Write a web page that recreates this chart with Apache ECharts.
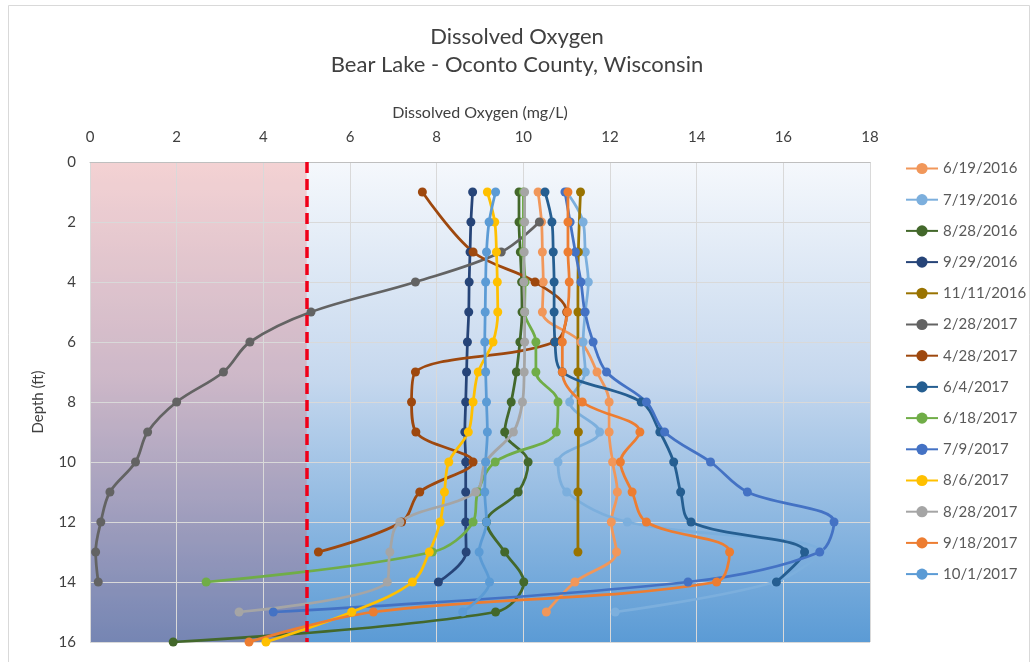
<!DOCTYPE html>
<html>
<head>
<meta charset="utf-8">
<script src="https://cdn.jsdelivr.net/npm/echarts@6/dist/echarts.min.js"></script>
<style>
  html, body { margin: 0; padding: 0; background: #fff; }
  #chart { width: 1034px; height: 662px; }
</style>
</head>
<body>
<div id="chart"></div>
<script>
// depth of each reading (ft)
const depths = [1, 2, 3, 4, 5, 6, 7, 8, 9, 10, 11, 12, 13, 14, 15, 16];
const oddDepths = [1, 3, 5, 7, 9, 11, 13];
const depths228 = [2, 3, 4, 5, 6, 7, 8, 9, 10, 11, 12, 13, 14];
const depths428 = [1, 3, 4, 5, 6, 7, 8, 9, 10, 11, 12, 13];

// dissolved oxygen (mg/L) per sampling date
const do_2016_06_19 = [10.34, 10.42, 10.44, 10.46, 10.44, 11.33, 11.70, 11.98, 11.98, 12.06, 12.17, 12.03, 12.15, 11.19, 10.53];
const do_2016_07_19 = [11.00, 11.38, 11.43, 11.50, 11.43, 11.38, 11.43, 11.07, 11.76, 10.80, 11.00, 12.40, 16.85, 15.80, 12.12];
const do_2016_08_28 = [9.90, 9.90, 9.93, 9.96, 9.97, 9.92, 9.84, 9.72, 9.57, 10.11, 9.88, 9.15, 9.57, 10.01, 9.36, 1.92];
const do_2016_09_29 = [8.83, 8.79, 8.77, 8.75, 8.74, 8.71, 8.69, 8.67, 8.65, 8.67, 8.67, 8.67, 8.68, 8.04];
const do_2016_11_11 = [11.32, 11.27, 11.26, 11.26, 11.27, 11.26, 11.26];
const do_2017_02_28 = [10.37, 9.49, 7.51, 5.10, 3.69, 3.08, 2.00, 1.33, 1.05, 0.46, 0.25, 0.13, 0.19];
const do_2017_04_28 = [7.67, 8.84, 10.27, 11.00, 10.72, 7.51, 7.42, 7.52, 8.84, 7.61, 7.19, 5.27];
const do_2017_06_04 = [10.50, 10.66, 10.69, 10.71, 10.71, 10.73, 10.90, 12.72, 13.15, 13.47, 13.63, 13.87, 16.49, 15.84];
const do_2017_06_18 = [10.00, 10.00, 10.00, 10.04, 10.03, 10.29, 10.29, 10.80, 10.76, 9.35, 8.95, 8.84, 7.90, 2.68];
const do_2017_07_09 = [10.96, 11.08, 11.20, 11.33, 11.42, 11.61, 11.92, 12.84, 13.26, 14.32, 15.17, 17.17, 16.84, 13.80, 4.23];
const do_2017_08_06 = [9.17, 9.34, 9.38, 9.40, 9.41, 9.30, 8.96, 8.84, 8.73, 8.28, 8.18, 8.08, 7.83, 7.44, 6.04, 4.06];
const do_2017_08_28 = [10.03, 10.03, 10.02, 10.01, 10.03, 10.03, 10.02, 9.98, 9.77, 9.13, 8.90, 7.15, 6.92, 6.86, 3.44];
const do_2017_09_18 = [11.03, 11.03, 11.03, 11.06, 11.02, 10.90, 10.90, 11.36, 12.69, 12.24, 12.51, 12.84, 14.76, 14.46, 6.54, 3.67];
const do_2017_10_01 = [9.36, 9.21, 9.15, 9.13, 9.12, 9.11, 9.13, 9.15, 9.17, 9.13, 9.11, 9.15, 8.98, 9.22, 8.60];

const xTicks = [0, 2, 4, 6, 8, 10, 12, 14, 16, 18];
const yTicks = [0, 2, 4, 6, 8, 10, 12, 14, 16];
const threshold = 5;

const profiles = [
  { name: "6/19/2016", color: "#F1975A", d: depths, v: do_2016_06_19 },
  { name: "7/19/2016", color: "#7CAFDD", d: depths, v: do_2016_07_19 },
  { name: "8/28/2016", color: "#43682B", d: depths, v: do_2016_08_28 },
  { name: "9/29/2016", color: "#264478", d: depths, v: do_2016_09_29 },
  { name: "11/11/2016", color: "#997300", d: oddDepths, v: do_2016_11_11 },
  { name: "2/28/2017", color: "#636363", d: depths228, v: do_2017_02_28 },
  { name: "4/28/2017", color: "#9E480E", d: depths428, v: do_2017_04_28 },
  { name: "6/4/2017", color: "#255E91", d: depths, v: do_2017_06_04 },
  { name: "6/18/2017", color: "#70AD47", d: depths, v: do_2017_06_18 },
  { name: "7/9/2017", color: "#4472C4", d: depths, v: do_2017_07_09 },
  { name: "8/6/2017", color: "#FFC000", d: depths, v: do_2017_08_06 },
  { name: "8/28/2017", color: "#A5A5A5", d: depths, v: do_2017_08_28 },
  { name: "9/18/2017", color: "#ED7D31", d: depths, v: do_2017_09_18 },
  { name: "10/1/2017", color: "#5B9BD5", d: depths, v: do_2017_10_01 }
];

const font = "Lato, 'Open Sans', sans-serif";

var series = profiles.map(function (p) {
  return {
    name: p.name,
    type: "line",
    smooth: 0.35,
    clip: false,
    z: 3,
    symbol: "circle",
    symbolSize: 9,
    itemStyle: { color: p.color },
    lineStyle: { color: p.color, width: 2.75 },
    data: p.v.map(function (val, i) { return [val, p.d[i]]; })
  };
});

// low-oxygen zone overlay and 5 mg/L line
series.push({
  name: "zone",
  type: "line",
  data: [[threshold, 0]],
  symbol: "none",
  lineStyle: { opacity: 0 },
  z: 10,
  silent: true,
  markArea: {
    silent: true,
    itemStyle: { color: "rgba(236,40,30,0.18)" },
    data: [[{ xAxis: 0, yAxis: 0 }, { xAxis: threshold, yAxis: 16 }]]
  },
  markLine: {
    silent: true,
    symbol: "none",
    label: { show: false },
    lineStyle: { color: "#F00018", width: 3.5, type: [11, 6] },
    data: [{ xAxis: threshold }]
  }
});

var myChart = echarts.init(document.getElementById("chart"));
var option = {
  animation: false,
  backgroundColor: "#fff",
  textStyle: { fontFamily: font },
  graphic: [{
    type: "rect",
    shape: { x: 8.5, y: 5.5, width: 1021, height: 680 },
    style: { fill: "none", stroke: "#D9D9D9", lineWidth: 1 },
    silent: true
  }],
  title: {
    text: "Dissolved Oxygen\nBear Lake - Oconto County, Wisconsin",
    left: "center",
    top: 18,
    textStyle: { fontFamily: font, fontSize: 22, fontWeight: "normal", color: "#404040", lineHeight: 28 }
  },
  legend: {
    orient: "vertical",
    left: 900,
    top: 156,
    itemWidth: 32,
    itemHeight: 14,
    itemGap: 16.2,
    data: profiles.map(function (p) { return p.name; }),
    textStyle: { fontFamily: font, fontSize: 15, color: "#595959" }
  },
  grid: {
    show: true,
    left: 90,
    right: 164,
    top: 162,
    bottom: 20,
    borderWidth: 0,
    backgroundColor: new echarts.graphic.LinearGradient(0, 0, 0, 1, [
      { offset: 0, color: "#F5F8FC" },
      { offset: 0.45, color: "#C6D8EE" },
      { offset: 1, color: "#5B9BD5" }
    ])
  },
  xAxis: {
    type: "value",
    position: "top",
    min: 0,
    max: 18,
    interval: 2,
    name: "Dissolved Oxygen (mg/L)",
    nameLocation: "middle",
    nameGap: 41,
    nameTextStyle: { fontFamily: font, fontSize: 16, color: "#404040" },
    axisLine: { show: true, lineStyle: { color: "#BFBFBF" } },
    axisTick: { show: false },
    axisLabel: {
      fontFamily: font, fontSize: 15, color: "#404040", margin: 17,
      formatter: function (v) { return xTicks.indexOf(v) >= 0 ? String(v) : ""; }
    },
    splitLine: { show: true, lineStyle: { color: "#D9D9D9", width: 1 } },
    z: 2
  },
  yAxis: {
    type: "value",
    inverse: true,
    min: 0,
    max: 16,
    interval: 2,
    name: "Depth (ft)",
    nameLocation: "middle",
    nameGap: 44,
    nameRotate: 90,
    nameTextStyle: { fontFamily: font, fontSize: 15, color: "#404040" },
    axisLine: { show: false },
    axisTick: { show: false },
    axisLabel: {
      fontFamily: font, fontSize: 15, color: "#404040", margin: 14,
      formatter: function (v) { return yTicks.indexOf(v) >= 0 ? String(v) : ""; }
    },
    splitLine: { show: true, lineStyle: { color: "#D9D9D9", width: 1 } },
    z: 2
  },
  series: series
};
myChart.setOption(option);
</script>
</body>
</html>
